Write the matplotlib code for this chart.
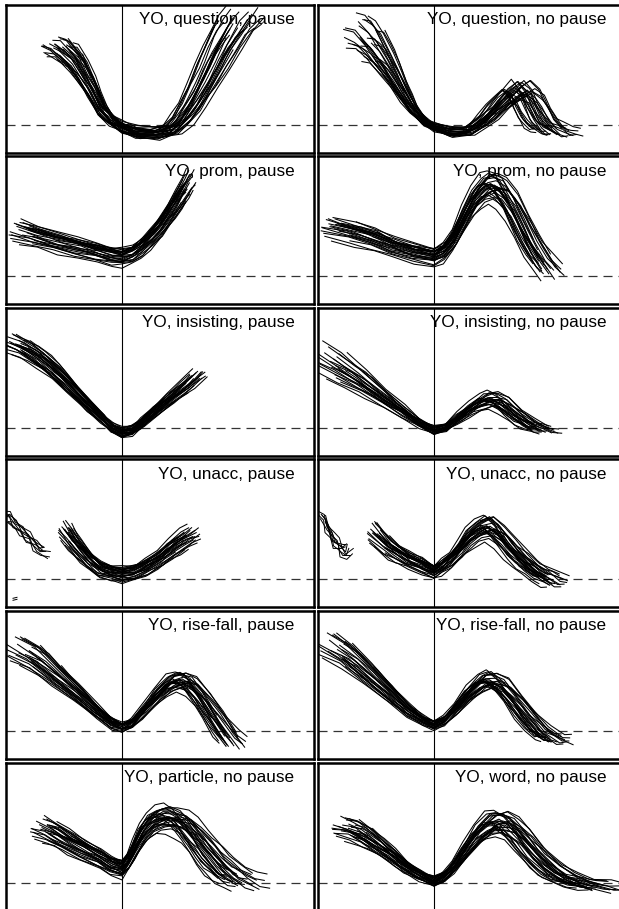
import numpy as np
import matplotlib
matplotlib.use('Agg')
import matplotlib.pyplot as plt

plt.rcParams['font.family'] = ['Liberation Sans', 'DejaVu Sans']
plt.rcParams['lines.scale_dashes'] = False

# panel titles, row by row (left, right)
titles = ["YO, question, pause", "YO, question, no pause",
          "YO, prom, pause", "YO, prom, no pause",
          "YO, insisting, pause", "YO, insisting, no pause",
          "YO, unacc, pause", "YO, unacc, no pause",
          "YO, rise-fall, pause", "YO, rise-fall, no pause",
          "YO, particle, no pause", "YO, word, no pause"]

# typical F0 contour of each panel (x: from alignment line, y: above the dashed reference)
q_pause_x = [-65, -58, -45, -35, -28, -20, -11, 0, 15, 35, 50, 60, 70, 80, 90, 100, 110, 118]
q_pause_y = [78, 75, 62, 45, 32, 15, 5, -3, -8, -9, -5, 5, 20, 38, 58, 78, 95, 105]
q_nopause_x = [-73, -65, -56, -45, -36, -28, -20, -10, 0, 17, 34, 45, 54, 64, 74, 84, 92, 97, 104, 110, 118, 124]
q_nopause_y = [88, 85, 75, 58, 42, 28, 15, 4, -3, -8, -7, 0, 8, 18, 28, 35, 28, 18, 5, -2, -7, -8]
prom_pause_x = [-103, -85, -65, -45, -25, -10, 0, 10, 20, 30, 40, 48, 56, 63, 67]
prom_pause_y = [46, 41, 35, 30, 25, 21, 20, 23, 30, 40, 52, 64, 76, 88, 94]
prom_nopause_x = [-103, -80, -60, -40, -20, 0, 10, 20, 30, 40, 50, 58, 66, 76, 86, 96, 106, 114]
prom_nopause_y = [50, 44, 38, 30, 24, 20, 25, 38, 58, 76, 87, 90, 86, 72, 52, 32, 16, 6]
ins_pause_x = [-111, -95, -80, -65, -50, -35, -20, -10, 0, 10, 20, 35, 50, 65, 76]
ins_pause_y = [85, 78, 68, 55, 40, 24, 10, 0, -5, -3, 5, 18, 30, 42, 52]
ins_nopause_x = [-108, -90, -70, -50, -30, -15, 0, 12, 25, 38, 50, 58, 68, 80, 92, 104, 112]
ins_nopause_y = [68, 58, 45, 30, 16, 5, -3, 0, 10, 20, 27, 28, 24, 14, 5, -1, -3]
unacc_pause_x = [-57, -50, -42, -32, -22, -10, 0, 12, 25, 38, 50, 62, 70]
unacc_pause_y = [50, 40, 30, 19, 11, 7, 5, 7, 13, 21, 31, 39, 44]
unacc_nopause_x = [-60, -46, -36, -26, -12, 0, 8, 17, 26, 34, 44, 54, 64, 74, 84, 94, 104, 114, 120]
unacc_nopause_y = [47, 33, 26, 20, 14, 8, 13, 20, 30, 40, 48, 52, 45, 33, 22, 13, 6, 0, -2]
rf_pause_x = [-103, -85, -65, -45, -25, -10, 0, 10, 22, 35, 48, 58, 68, 80, 92, 104, 111]
rf_pause_y = [82, 72, 55, 38, 20, 8, 4, 8, 20, 35, 47, 50, 46, 32, 14, -4, -12]
rf_nopause_x = [-103, -85, -65, -45, -25, -10, 0, 10, 22, 35, 48, 57, 68, 80, 92, 104, 116, 122]
rf_nopause_y = [85, 74, 56, 38, 20, 10, 6, 10, 22, 37, 48, 50, 44, 30, 14, 0, -8, -9]
part_x = [-80, -68, -55, -38, -22, -11, 0, 6, 12, 20, 28, 38, 48, 58, 66, 75, 84, 93, 103, 113, 121]
part_y = [55, 50, 42, 33, 25, 18, 14, 22, 33, 48, 58, 64, 65, 61, 54, 43, 31, 20, 10, 3, 0]
word_x = [-90, -78, -66, -52, -40, -28, -15, 0, 10, 20, 32, 44, 56, 66, 76, 86, 98, 112, 126, 140, 155, 166]
word_y = [55, 52, 45, 35, 26, 16, 8, 1, 6, 16, 32, 48, 58, 60, 55, 45, 30, 16, 6, 0, -3, -5]

# short contour pieces far left in the "unacc" panels
frag_pause_x = [-117, -110, -104, -97, -90, -84, -76]
frag_pause_y = [62, 58, 52, 44, 36, 30, 27]
frag_nopause_x = [-112, -108, -104, -100, -95, -90, -85]
frag_nopause_y = [62, 55, 47, 38, 30, 26, 30]

base_x = [q_pause_x, q_nopause_x, prom_pause_x, prom_nopause_x, ins_pause_x, ins_nopause_x,
          unacc_pause_x, unacc_nopause_x, rf_pause_x, rf_nopause_x, part_x, word_x]
base_y = [q_pause_y, q_nopause_y, prom_pause_y, prom_nopause_y, ins_pause_y, ins_nopause_y,
          unacc_pause_y, unacc_nopause_y, rf_pause_y, rf_nopause_y, part_y, word_y]

# number of contours and how much they spread in each panel
n_curves = [30, 28, 28, 28, 28, 24, 28, 28, 26, 26, 30, 28]
spread_sxl = [0.25, 0.25, 0.10, 0.10, 0.12, 0.12, 0.12, 0.12, 0.14, 0.14, 0.15, 0.14]
spread_sxr = [0.20, 0.20, 0.10, 0.14, 0.12, 0.14, 0.12, 0.14, 0.14, 0.14, 0.22, 0.16]
spread_sy = [0.12, 0.30, 0.15, 0.15, 0.10, 0.30, 0.20, 0.22, 0.18, 0.18, 0.15, 0.20]
spread_dy = [6, 4, 9, 9, 5, 4, 8, 7, 5, 5, 9, 5]
wiggle_amp = [2.0, 1.5, 1.5, 1.5, 1.5, 1.5, 1.5, 1.5, 1.5, 1.5, 1.5, 1.5]

# per-contour deviations (unit values), small point-to-point roughness and trimmed ends
u_a = [-1.0, 0.6, -0.3, 0.9, 0.1, -0.7, 0.4, -0.1, 0.8, -0.5, 0.2, -0.9, 0.5, 0.0, -0.4, 0.7,
       -0.2, 0.3, -0.8, 0.95, -0.6, 0.15, 0.45, -0.35, 0.65, -0.05, 0.85, -0.15, 0.25, -0.75, 0.55, -0.45]
u_b = [0.5, 0.1, -0.6, 0.8, -0.2, 0.3, -0.9, 0.0, 0.6, -0.4, 0.9, -0.1, 0.4, -0.7, 0.2, -0.3,
       0.7, -0.5, 0.15, 1.0, -0.8, 0.35, -0.25, 0.55, -0.05, -0.45, 0.25, -0.95, 0.75, -0.15, 0.05, -0.65]
u_c = [0.2, -0.5, 0.8, -0.1, 0.4, -0.9, 0.0, 0.6, -0.3, 0.9, -0.7, 0.3, 0.1, -0.4, 0.7, -0.2,
       0.5, -0.6, -1.0, 0.35, -0.15, 0.85, -0.45, 0.05, 0.65, -0.8, 0.45, -0.25, 0.95, -0.35, 0.15, -0.55]
u_d = [0.3, -0.8, 0.6, 0.1, -0.4, 0.9, -0.2, 0.5, -0.6, 0.0, 0.8, -0.3, -0.9, 0.4, 0.2, -0.5,
       0.7, -0.1, 0.35, -0.7, 0.55, -0.25, 0.95, -0.45, 0.15, -0.95, -0.65, 0.6, -0.15, 0.45, -0.35, 0.75]
wig = [0.0, 0.8, -0.5, 0.3, -0.9, 0.6, 0.1, -0.4, 1.0, -0.7, 0.2, 0.5, -0.2, -0.8, 0.7, 0.0,
       -0.6, 0.4, 0.9, -0.3, -1.0, 0.35, 0.65, -0.45, 0.15, -0.85, 0.55, -0.1, 0.45, -0.65, 0.85, -0.25]
trim_start = [0, 0, 1, 0, 0, 0, 1, 0, 0, 2, 0, 0, 1, 0, 0, 0, 0, 1, 0, 0, 0, 2, 0, 0, 1, 0, 0, 1, 0, 0, 1, 0]
trim_end = [0, 1, 0, 0, 2, 0, 0, 1, 0, 0, 0, 1, 0, 0, 2, 0, 1, 0, 0, 0, 1, 0, 0, 2, 0, 0, 1, 0, 0, 1, 0, 0]

W, H = 619, 909
fig = plt.figure(figsize=(W / 100, H / 100), dpi=100)

for i in range(12):
    r, c = divmod(i, 2)
    left = 5.5 + c * 312
    top = 4.5 + r * 151.6
    ax = fig.add_axes([left / W, 1 - (top + 148) / H, 308 / W, 148 / H])
    ax.set_xlim(-116.5, 191.5)
    ax.set_ylim(-28, 120)
    ax.set_xticks([])
    ax.set_yticks([])
    for s in ax.spines.values():
        s.set_linewidth(1.8)

    ax.axvline(0, color='black', lw=0.8, zorder=3)
    ax.axhline(0, color='#333333', lw=0.9, dashes=(6.5, 4.3), zorder=1)
    ax.text(0.938, 0.868, titles[i], ha='right', va='baseline', fontsize=12.3,
            transform=ax.transAxes, zorder=1)

    bx = np.array(base_x[i], dtype=float)
    by = np.array(base_y[i], dtype=float)
    npts = len(bx)
    for k in range(n_curves[i]):
        j = (k + 3 * i) % len(u_a)
        sx = np.where(bx < 0, 1 + spread_sxl[i] * u_a[j], 1 + spread_sxr[i] * u_b[j])
        x = bx * sx
        rough = np.array([wig[(p + 7 * k + i) % len(wig)] for p in range(npts)])
        y = by * (1 + spread_sy[i] * u_c[j]) + spread_dy[i] * u_d[j] + wiggle_amp[i] * rough
        a, b = trim_start[j], npts - trim_end[j]
        ax.plot(x[a:b], y[a:b], color='black', lw=0.75, zorder=2)

    if i in (6, 7):
        fx = np.array(frag_pause_x if i == 6 else frag_nopause_x, dtype=float)
        fy = np.array(frag_pause_y if i == 6 else frag_nopause_y, dtype=float)
        for k in range(8):
            rough = np.array([wig[(p + 5 * k) % len(wig)] for p in range(len(fx))])
            ax.plot(fx + 4 * u_a[k] + 2 * rough, fy + 8 * u_d[k] + 3 * rough[::-1],
                    color='black', lw=0.7, zorder=2)
        if i == 6:
            ax.plot([-109, -105], [-19, -18], color='black', lw=0.7)
            ax.plot([-109, -105], [-21, -20], color='black', lw=0.7)

fig.savefig('out.png', dpi=100)
